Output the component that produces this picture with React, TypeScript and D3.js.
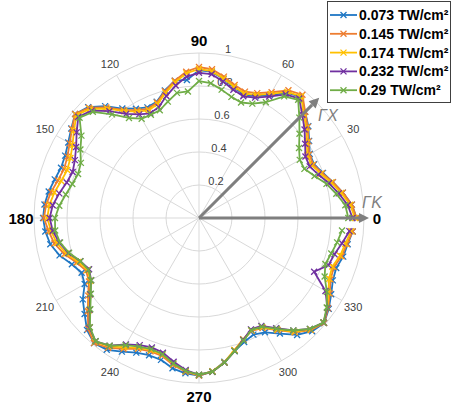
import React from "react";
import * as d3 from "d3";

const angles = [0,5,10,15,20,25,30,35,40,45,50,55,60,65,70,75,80,85,90,95,100,105,110,115,120,125,130,135,140,145,150,155,160,165,170,175,180,185,190,195,200,205,210,215,220,225,230,235,240,245,250,255,260,265,270,275,280,285,290,295,300,305,310,315,320,325,330,335,340,345,350,355];

const s073 = [0.955,0.93,0.885,0.84,0.80,0.77,0.775,0.815,0.865,0.91,0.96,0.925,0.86,0.815,0.795,0.82,0.855,0.89,0.895,0.84,0.845,0.80,0.75,0.74,0.765,0.81,0.885,0.95,0.98,0.945,0.915,0.895,0.89,0.905,0.925,0.94,0.945,0.935,0.915,0.875,0.82,0.785,0.80,0.86,0.905,0.96,0.99,0.975,0.935,0.90,0.885,0.89,0.925,0.945,0.955,0.935,0.885,0.835,0.80,0.78,0.80,0.855,0.925,0.97,0.99,0.96,0.925,0.895,0.885,0.905,0.915,0.935];
const s145 = [0.955,0.93,0.885,0.84,0.795,0.765,0.77,0.81,0.86,0.91,0.975,0.945,0.88,0.835,0.815,0.835,0.87,0.905,0.915,0.89,0.845,0.795,0.745,0.73,0.755,0.80,0.875,0.945,0.98,0.94,0.905,0.88,0.87,0.885,0.91,0.93,0.94,0.915,0.89,0.845,0.79,0.755,0.77,0.82,0.88,0.95,0.99,0.96,0.915,0.875,0.86,0.865,0.905,0.935,0.955,0.935,0.89,0.83,0.785,0.755,0.77,0.83,0.905,0.96,0.99,0.955,0.915,0.88,0.87,0.895,0.91,0.935];
const s174 = [0.945,0.92,0.875,0.83,0.785,0.755,0.758,0.798,0.848,0.898,0.963,0.933,0.868,0.823,0.803,0.823,0.858,0.893,0.903,0.88,0.835,0.785,0.735,0.72,0.745,0.79,0.865,0.935,0.97,0.925,0.885,0.86,0.85,0.865,0.89,0.91,0.92,0.90,0.875,0.832,0.778,0.745,0.76,0.81,0.87,0.94,0.98,0.95,0.905,0.867,0.852,0.857,0.897,0.93,0.952,0.932,0.887,0.828,0.782,0.75,0.765,0.825,0.90,0.955,0.985,0.95,0.905,0.87,0.86,0.885,0.90,0.925];
const s232 = [0.93,0.905,0.86,0.815,0.77,0.74,0.745,0.785,0.835,0.885,0.945,0.915,0.85,0.805,0.785,0.805,0.84,0.875,0.88,0.86,0.815,0.765,0.715,0.70,0.725,0.77,0.845,0.92,0.955,0.905,0.86,0.83,0.815,0.83,0.86,0.89,0.905,0.89,0.86,0.82,0.765,0.735,0.755,0.805,0.865,0.94,0.975,0.945,0.885,0.85,0.835,0.845,0.885,0.925,0.95,0.935,0.89,0.835,0.785,0.745,0.755,0.815,0.89,0.95,0.985,0.95,0.885,0.77,0.835,0.85,0.88,0.915];
const s290 = [0.905,0.89,0.845,0.80,0.745,0.705,0.705,0.74,0.795,0.86,0.935,0.90,0.81,0.765,0.745,0.76,0.79,0.82,0.83,0.77,0.77,0.73,0.695,0.69,0.695,0.74,0.82,0.91,0.945,0.87,0.83,0.79,0.78,0.795,0.82,0.85,0.873,0.875,0.855,0.815,0.765,0.74,0.755,0.80,0.86,0.935,0.975,0.945,0.89,0.86,0.845,0.855,0.895,0.93,0.95,0.935,0.89,0.835,0.79,0.75,0.76,0.82,0.89,0.95,0.985,0.945,0.895,0.84,0.815,0.83,0.85,0.87];

const seriesNames = ["0.073 TW/cm²","0.145 TW/cm²","0.174 TW/cm²","0.232 TW/cm²","0.29 TW/cm²"];
const seriesValues = [s073, s145, s174, s232, s290];
const seriesColors = ["#1f77c4","#ed7d31","#ffc000","#7030a0","#70ad47"];

const ringValues = [0.2,0.4,0.6,0.8,1];
const ringLabels = ["0.2","0.4","0.6","0.8","1"];
const spokeAngles = [0,30,60,90,120,150,180,210,240,270,300,330];
const boldAngles = [0,90,180,270];

const FONT = "'Liberation Sans', Arial, sans-serif";

export default function App() {
  const cx = 199, cy = 218, R = 165;
  const r = d3.scaleLinear().domain([0, 1]).range([0, R]);
  const rad = (a: number) => (a * Math.PI) / 180;
  const pt = (a: number, v: number): [number, number] => [
    cx + r(v) * Math.cos(rad(a)),
    cy - r(v) * Math.sin(rad(a)),
  ];
  const line = d3.line<[number, number]>();
  const grid = "#d9d9d9";
  const arrowColor = "#7f7f7f";

  const arrow = (a: number, len: number, key: string) => {
    const [tx, ty] = [cx + len * Math.cos(rad(a)), cy - len * Math.sin(rad(a))];
    const hl = 10, hw = 5;
    const ux = Math.cos(rad(a)), uy = -Math.sin(rad(a));
    const bx = tx - ux * hl, by = ty - uy * hl;
    const px = -uy, py = ux;
    return (
      <g key={key}>
        <line x1={cx} y1={cy} x2={bx} y2={by} stroke={arrowColor} strokeWidth={3} />
        <path d={`M${tx},${ty}L${bx + px * hw},${by + py * hw}L${bx - px * hw},${by - py * hw}Z`} fill={arrowColor} />
      </g>
    );
  };

  return (
    <div style={{ position: "absolute", left: 0, top: 0 }}>
      <svg width={452} height={410} style={{ display: "block", background: "#fff" }} fontFamily={FONT}>
        <rect x={0} y={0} width={452} height={410} fill="#fff" />
        {ringValues.map((v) => (
          <circle key={v} cx={cx} cy={cy} r={r(v)} fill="none" stroke={grid} strokeWidth={1} />
        ))}
        {spokeAngles.map((a) => {
          const [x, y] = pt(a, 1);
          return <line key={a} x1={cx} y1={cy} x2={x} y2={y} stroke={grid} strokeWidth={1} />;
        })}
        {spokeAngles.map((a) => {
          const bold = boldAngles.includes(a);
          const x = cx + 178 * Math.cos(rad(a));
          const y = cy - 178 * Math.sin(rad(a));
          return (
            <text key={a} x={x} y={y} textAnchor="middle" dominantBaseline="central"
              fontSize={bold ? 15 : 11} fontWeight={bold ? "bold" : "normal"} fill={bold ? "#000" : "#404040"}>
              {a}
            </text>
          );
        })}
        {ringValues.map((v, i) => (
          <text key={v} x={cx + 14 + 15 * v} y={cy - r(v) - 4} textAnchor="middle" dominantBaseline="central"
            fontSize={11} fill="#404040">
            {ringLabels[i]}
          </text>
        ))}
        {seriesValues.map((vals, si) => {
          const pts = angles.map((a, i) => pt(a, vals[i]));
          return (
            <g key={si}>
              <path d={line(pts) || ""} fill="none" stroke={seriesColors[si]} strokeWidth={1.8} strokeLinejoin="round" />
              {pts.map(([x, y], i) => (
                <path key={i} d={`M${x - 3},${y - 3}L${x + 3},${y + 3}M${x - 3},${y + 3}L${x + 3},${y - 3}`}
                  stroke={seriesColors[si]} strokeWidth={1.3} fill="none" />
              ))}
            </g>
          );
        })}
        {arrow(0, 170, "gk")}
        {arrow(45, 170, "gx")}
        <text x={318} y={115} dominantBaseline="central" fontSize={16} fontStyle="italic" fill={arrowColor}>ΓX</text>
        <text x={362} y={202} dominantBaseline="central" fontSize={16} fontStyle="italic" fill={arrowColor}>ΓK</text>
        <g>
          <rect x={327.5} y={1.5} width={123} height={101} fill="#fff" stroke="#404040" strokeWidth={1} />
          {seriesNames.map((n, i) => {
            const y = 15 + i * 18.8;
            return (
              <g key={n}>
                <line x1={330} y1={y} x2={357} y2={y} stroke={seriesColors[i]} strokeWidth={1.8} />
                <path d={`M${340.5},${y - 3}L${346.5},${y + 3}M${340.5},${y + 3}L${346.5},${y - 3}`}
                  stroke={seriesColors[i]} strokeWidth={1.3} />
                <text x={359} y={y} dominantBaseline="central" fontSize={14} fontWeight="bold" fill="#000">{n}</text>
              </g>
            );
          })}
        </g>
      </svg>
    </div>
  );
}
